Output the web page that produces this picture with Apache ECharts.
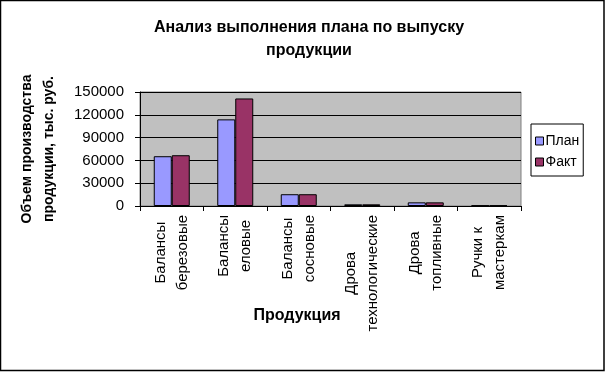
<!DOCTYPE html>
<html>
<head>
<meta charset="utf-8">
<script src="https://cdn.jsdelivr.net/npm/echarts@6/dist/echarts.min.js"></script>
<style>
  html, body { margin: 0; padding: 0; background: #fff; }
  #chart { width: 605px; height: 372px; }
</style>
</head>
<body>
<div id="chart"></div>
<script>
// данные
const categories = [
  'Балансы\nберезовые',
  'Балансы\nеловые',
  'Балансы\nсосновые',
  'Дрова\nтехнологические',
  'Дрова\nтопливные',
  'Ручки к\nмастеркам'
]
const planValues = [65500, 114000, 15500, 2200, 4800, 800]
const factValues = [66800, 141500, 15500, 2200, 4800, 800]
const yTicks = [0, 30000, 60000, 90000, 120000, 150000]

const font = '"Liberation Sans", Arial, sans-serif'

const chart = echarts.init(document.getElementById('chart'))

// подписи категорий: строки по центру внутри блока
const catLabel = (v) => v.split('\n').map(s => '{c|' + s + '}').join('\n')

chart.setOption({
  animation: false,
  backgroundColor: '#fff',
  textStyle: { fontFamily: font },
  title: [
    {
      text: 'Анализ выполнения плана по выпуску\nпродукции',
      left: 304, top: 11, textAlign: 'center',
      textStyle: { fontSize: 16, fontWeight: 'bold', color: '#000', lineHeight: 23, fontFamily: font }
    },
    {
      text: 'Продукция',
      left: 292, top: 303, textAlign: 'center',
      textStyle: { fontSize: 16, fontWeight: 'bold', color: '#000', fontFamily: font }
    }
  ],
  legend: {
    orient: 'vertical',
    left: 531, top: 124,
    width: 57,
    padding: [10, 4, 7, 4],
    icon: 'rect',
    itemWidth: 8, itemHeight: 8, itemGap: 7,
    borderColor: '#000', borderWidth: 1,
    textStyle: { fontSize: 14, color: '#000', fontFamily: font, padding: [0, 0, 0, -3] },
    data: [
      { name: 'План', itemStyle: { borderColor: '#000', borderWidth: 1 } },
      { name: 'Факт', itemStyle: { borderColor: '#000', borderWidth: 1 } }
    ]
  },
  grid: {
    left: 140, top: 92, width: 381, height: 114,
    show: true, backgroundColor: '#C0C0C0', borderColor: '#808080', borderWidth: 1
  },
  xAxis: {
    type: 'category',
    data: categories,
    axisLine: { lineStyle: { color: '#000', width: 1 } },
    axisTick: { show: true, alignWithLabel: false, length: 5, lineStyle: { color: '#000' } },
    axisLabel: {
      rotate: 90, margin: 9, interval: 0,
      color: '#000', fontSize: 15, lineHeight: 22, fontFamily: font,
      formatter: catLabel,
      rich: { c: { align: 'center', fontSize: 15, fontFamily: font, color: '#000', lineHeight: 22 } }
    }
  },
  yAxis: {
    type: 'value',
    min: 0, max: yTicks[yTicks.length - 1], interval: yTicks[1] - yTicks[0],
    name: 'Объем производства\nпродукции, тыс. руб.',
    nameLocation: 'middle', nameGap: 80, nameRotate: 90,
    nameTextStyle: { fontSize: 14, fontWeight: 'bold', color: '#000', lineHeight: 22, fontFamily: font },
    axisLine: { show: true, lineStyle: { color: '#000' } },
    axisTick: { show: true, length: 5, lineStyle: { color: '#000' } },
    axisLabel: { color: '#000', fontSize: 15, margin: 16, fontFamily: font, formatter: (v) => String(v) },
    splitLine: { show: true, lineStyle: { color: '#000', width: 1 } }
  },
  series: [
    {
      name: 'План', type: 'bar', data: planValues,
      barWidth: 18, barGap: '0%',
      itemStyle: { color: '#9999FF', borderColor: '#000', borderWidth: 1 }
    },
    {
      name: 'Факт', type: 'bar', data: factValues,
      barWidth: 18,
      itemStyle: { color: '#993366', borderColor: '#000', borderWidth: 1 }
    }
  ],
  graphic: [
    {
      type: 'rect', silent: true, z: 100,
      shape: { x: 0.5, y: 0.5, width: 603.5, height: 370 },
      style: { fill: 'none', stroke: '#000', lineWidth: 1.5 }
    }
  ]
})
</script>
</body>
</html>
